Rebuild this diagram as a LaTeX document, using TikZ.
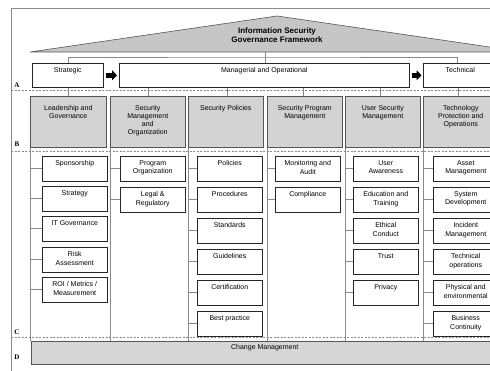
\documentclass[tikz,border=0pt]{standalone}
\usepackage{fontspec}
\setmainfont{Liberation Sans}
\newfontfamily\lblserif{Liberation Serif}
\usetikzlibrary{arrows.meta}
\definecolor{roofgray}{HTML}{C6C6C6}
\definecolor{boxgray}{HTML}{D3D3D3}
\definecolor{bargray}{HTML}{D6D6D6}
\definecolor{linegray}{HTML}{8A8A8A}
\definecolor{edgegray}{HTML}{555555}
\tikzset{
  x=1pt, y=-1pt,
  sub/.style={draw=black!85, line width=0.55pt, minimum width=65pt, minimum height=25pt, anchor=north west, inner sep=0pt},
  lbl/.style={anchor=north, yshift=-3.5pt, align=center, font=\fontsize{7}{8.4}\selectfont, inner sep=1pt},
  hlbl/.style={anchor=north, yshift=-8.5pt, align=center, font=\fontsize{7}{8}\selectfont, inner sep=1pt},
  catbox/.style={draw=edgegray, fill=boxgray, line width=0.6pt, minimum width=75pt, minimum height=51pt, anchor=north west, inner sep=0pt},
  toprow/.style={draw=black!85, fill=white, line width=0.6pt, minimum height=24pt, anchor=north west, inner sep=0pt},
  conn/.style={draw=linegray, line width=0.6pt},
  coll/.style={draw=linegray, line width=0.8pt},
  sep/.style={draw=linegray, line width=0.6pt, dash pattern=on 2pt off 1.5pt},
  blockarrow/.style={-{Triangle[length=5pt,width=10pt]}, line width=5pt, draw=black},
  rowlbl/.style={font=\lblserif\bfseries\fontsize{7}{8}\selectfont, inner sep=0pt},
}
\begin{document}
\begin{tikzpicture}
\clip (0,0) rectangle (490,371);
\fill[white] (0,0) rectangle (490,371);
% outer frame
\draw[draw=linegray, line width=0.7pt] (495,8) -- (11,8) -- (11,372);
% roof
\draw[draw=edgegray, fill=roofgray, line width=0.6pt] (30,52) -- (277,16) -- (524,52) -- cycle;
\node[font=\bfseries\fontsize{8}{9}\selectfont, align=center, inner sep=0pt] (title) at (277,35.5) {Information Security\\Governance Framework};
\coordinate (roofbase) at (265,52);
% row A
\node[toprow, minimum width=71pt] (strat) at (32,63) {};
\node[toprow, minimum width=290pt] (man) at (119,63) {};
\node[toprow, minimum width=74pt] (tech) at (423,63) {};
\node[lbl, font=\fontsize{7}{8}\selectfont] at (strat.north) {Strategic};
\node[lbl, font=\fontsize{7}{8}\selectfont] at (man.north) {Managerial and Operational};
\node[lbl, font=\fontsize{7}{8}\selectfont] at (tech.north) {Technical};
\coordinate (bus) at (265,57);
\draw[conn] (roofbase) -- (bus);
\draw[conn] (strat.north) |- (bus) -| ([xshift=-3pt]tech.north);
\draw[conn] (bus) -- (man.north -| bus);
\draw[blockarrow] ([xshift=2pt]strat.east) -- ([xshift=-2pt]man.west);
\draw[blockarrow] ([xshift=2pt]man.east) -- ([xshift=-1.5pt]tech.west);
% separators
\draw[sep] (11,90) -- (495,90);
\draw[sep] (11,151) -- (495,151);
\draw[sep] (11,337) -- (495,337);
\node[rowlbl] (la) at (17,85) {A};
\node[rowlbl] (lb) at (17,144) {B};
\node[rowlbl] (lc) at (17,332) {C};
\node[rowlbl] (ld) at (17,357) {D};
% D bar
\node[draw=edgegray, fill=bargray, line width=0.6pt, minimum width=467pt, minimum height=23pt, anchor=north west, inner sep=0pt] (dbar) at (31,341) {};
\node[lbl, yshift=1pt, font=\fontsize{7}{8}\selectfont] at (dbar.north) {Change Management};
% row B
\node[catbox, minimum width=76pt] (lead) at (30,96) {};
\node[catbox] (smo) at (110,96) {};
\node[catbox] (spol) at (188,96) {};
\node[catbox] (spm) at (267,96) {};
\node[catbox] (usm) at (345,96) {};
\node[catbox] (tpo) at (423,96) {};
\node[hlbl] at (lead.north) {Leadership and\\Governance};
\node[hlbl] at (smo.north) {Security\\Management\\and\\Organization};
\node[hlbl] at (spol.north) {Security Policies};
\node[hlbl] at (spm.north) {Security Program\\Management};
\node[hlbl] at (usm.north) {User Security\\Management};
\node[hlbl] at (tpo.north) {Technology\\Protection and\\Operations};
\draw[conn] (lead.north) -- (lead.north |- strat.south);
\draw[conn] ([xshift=0.5pt]smo.north) -- ([xshift=0.5pt]smo.north |- man.south);
\draw[conn] ([xshift=1.5pt]spol.north) -- ([xshift=1.5pt]spol.north |- man.south);
\draw[conn] ([xshift=-1.5pt]spm.north) -- ([xshift=-1.5pt]spm.north |- man.south);
\draw[conn] ([xshift=-2.5pt]usm.north) -- ([xshift=-2.5pt]usm.north |- man.south);
\draw[conn] ([xshift=-2.5pt]tpo.north) -- ([xshift=-2.5pt]tpo.north |- tech.south);
% column lines
\foreach \c in {lead,smo,spol,spm,usm,tpo}{
  \draw[coll] ([xshift=0.5pt]\c.south west) -- ([xshift=0.5pt]\c.south west |- dbar.north);
}
% column 1
\node[sub, label={[lbl]north:Sponsorship}] (l1) at (42,156) {};
\node[sub, label={[lbl]north:Strategy}] (l2) at (42,186) {};
\node[sub, label={[lbl]north:IT Governance}] (l3) at (42,216) {};
\node[sub, label={[lbl]north:{Risk\\Assessment}}] (l4) at (42,247) {};
\node[sub, label={[lbl]north:{ROI / Metrics /\\Measurement}}] (l5) at (42,277) {};
% column 2
\node[sub, label={[lbl]north:{Program\\Organization}}] (m1) at (120,156) {};
\node[sub, label={[lbl]north:{Legal \&\\Regulatory}}] (m2) at (120,187) {};
% column 3
\node[sub, label={[lbl]north:Policies}] (p1) at (197,156) {};
\node[sub, label={[lbl]north:Procedures}] (p2) at (197,187) {};
\node[sub, label={[lbl]north:Standards}] (p3) at (197,218) {};
\node[sub, label={[lbl]north:Guidelines}] (p4) at (197,249) {};
\node[sub, label={[lbl]north:Certification}] (p5) at (197,280) {};
\node[sub, label={[lbl]north:Best practice}] (p6) at (197,311) {};
% column 4
\node[sub, label={[lbl]north:{Monitoring and\\Audit}}] (g1) at (275,156) {};
\node[sub, label={[lbl]north:Compliance}] (g2) at (275,187) {};
% column 5
\node[sub, label={[lbl]north:{User\\Awareness}}] (u1) at (353,156) {};
\node[sub, label={[lbl]north:{Education and\\Training}}] (u2) at (353,187) {};
\node[sub, label={[lbl]north:{Ethical\\Conduct}}] (u3) at (353,218) {};
\node[sub, label={[lbl]north:Trust}] (u4) at (353,249) {};
\node[sub, label={[lbl]north:Privacy}] (u5) at (353,280) {};
% column 6
\node[sub, label={[lbl]north:{Asset\\Management}}] (t1) at (433,156) {};
\node[sub, label={[lbl]north:{System\\Development}}] (t2) at (433,187) {};
\node[sub, label={[lbl]north:{Incident\\Management}}] (t3) at (433,218) {};
\node[sub, label={[lbl]north:{Technical\\operations}}] (t4) at (433,249) {};
\node[sub, label={[lbl]north:{Physical and\\environmental}}] (t5) at (433,280) {};
\node[sub, label={[lbl]north:{Business\\Continuity}}] (t6) at (433,311) {};
% ticks
\foreach \b in {l1,l2,l3,l4,l5}{\draw[conn] (\b.west) -- (\b.west -| lead.south west);}
\foreach \b in {m1,m2}{\draw[conn] (\b.west) -- (\b.west -| smo.south west);}
\foreach \b in {p1,p2,p3,p4,p5,p6}{\draw[conn] (\b.west) -- (\b.west -| spol.south west);}
\foreach \b in {g1,g2}{\draw[conn] (\b.west) -- (\b.west -| spm.south west);}
\foreach \b in {u1,u2,u3,u4,u5}{\draw[conn] (\b.west) -- (\b.west -| usm.south west);}
\foreach \b in {t1,t2,t3,t4,t5,t6}{\draw[conn] (\b.west) -- (\b.west -| tpo.south west);}
\end{tikzpicture}
\end{document}
